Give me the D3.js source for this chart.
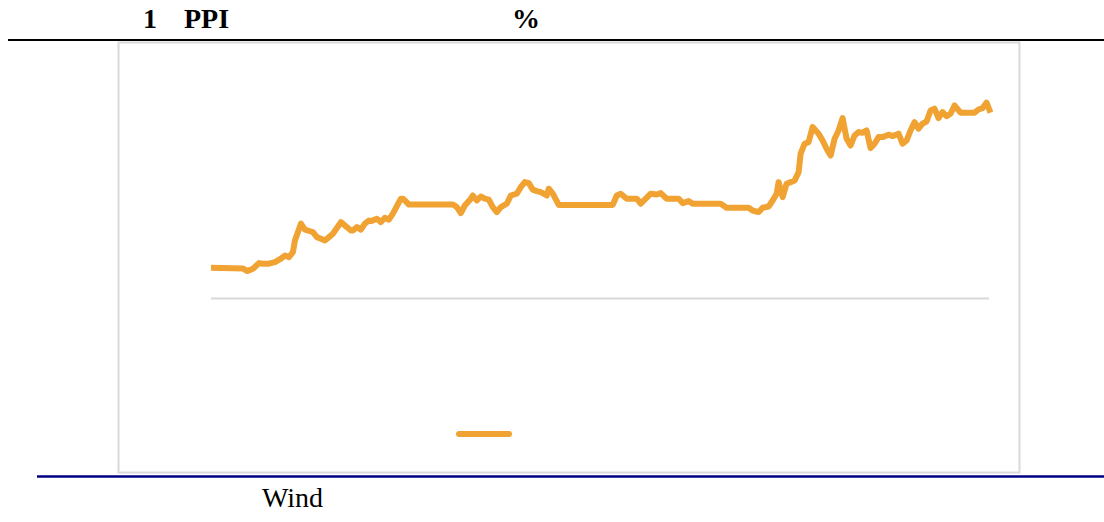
<!DOCTYPE html>
<html>
<head>
<meta charset="utf-8">
<script src="https://cdn.jsdelivr.net/npm/d3@7"></script>
<style>
  body { margin: 0; background: #fff; }
  svg { display: block; }
</style>
</head>
<body>
<div id="chart"></div>
<script>
// week index of each point and the series value
const weeks = [0, 16, 18, 21, 24, 26, 29, 32, 35, 37, 39, 41, 42, 45, 47, 50, 51, 53, 55, 57,
  59, 61, 65, 67, 70, 71, 73, 75, 77, 79, 80, 83, 85, 87, 89, 91, 95, 96, 99, 121,
  123, 125, 127, 130, 131, 133, 135, 137, 139, 141, 143, 145, 148, 150, 153, 155, 157, 159, 161, 163,
  165, 168, 169, 171, 174, 201, 203, 205, 208, 213, 215, 218, 220, 223, 225, 228, 234, 236, 239, 241,
  255, 258, 269, 271, 274, 276, 279, 281, 283, 284, 286, 288, 290, 292, 294, 295, 297, 299, 301, 304,
  306, 308, 310, 312, 314, 316, 318, 320, 322, 324, 326, 328, 330, 332, 334, 336, 339, 341, 344, 346,
  348, 350, 352, 354, 356, 358, 360, 362, 364, 366, 368, 370, 372, 375, 382, 384, 386, 388, 390]
const ppi = [1.54, 1.50, 1.37, 1.49, 1.77, 1.74, 1.74, 1.82, 1.99, 2.15, 2.07, 2.32, 2.90, 3.74, 3.44, 3.35, 3.32, 3.07, 2.99, 2.90,
  3.07, 3.24, 3.82, 3.65, 3.40, 3.40, 3.57, 3.44, 3.74, 3.90, 3.87, 3.99, 3.82, 4.04, 3.94, 4.24, 4.99, 4.99, 4.70, 4.70,
  4.57, 4.27, 4.65, 4.99, 5.15, 4.90, 5.10, 4.99, 4.94, 4.57, 4.32, 4.57, 4.74, 5.15, 5.24, 5.57, 5.82, 5.77, 5.44, 5.37,
  5.32, 5.15, 5.49, 5.24, 4.68, 4.68, 5.15, 5.24, 4.99, 4.99, 4.74, 5.04, 5.24, 5.20, 5.27, 4.99, 4.99, 4.77, 4.87, 4.74,
  4.74, 4.54, 4.54, 4.40, 4.32, 4.54, 4.60, 4.90, 5.24, 5.82, 5.07, 5.74, 5.82, 5.90, 6.32, 7.24, 7.74, 7.82, 8.57, 8.24,
  7.90, 7.49, 7.15, 7.99, 8.40, 9.02, 7.99, 7.65, 8.15, 8.32, 8.29, 8.40, 7.52, 7.74, 8.07, 8.07, 8.19, 8.12, 8.24, 7.74,
  7.90, 8.40, 8.82, 8.49, 8.74, 8.85, 9.40, 9.49, 9.02, 9.32, 9.12, 9.24, 9.65, 9.29, 9.29, 9.45, 9.52, 9.79, 9.29]

const width = 1104, height = 522
const lineColor = '#f0a232'

const svg = d3.select('#chart').append('svg')
    .attr('width', width)
    .attr('height', height)

// title row (only the latin part of the caption shows)
const titleFont = "'Liberation Serif', 'Times New Roman', serif"
svg.append('text').attr('x', 143).attr('y', 28).text('1')
    .attr('font-family', titleFont).attr('font-size', 28).attr('font-weight', 'bold')
svg.append('text').attr('x', 184).attr('y', 28).text('PPI')
    .attr('font-family', titleFont).attr('font-size', 28).attr('font-weight', 'bold')
svg.append('text').attr('x', 512).attr('y', 28).text('%')
    .attr('font-family', titleFont).attr('font-size', 28).attr('font-weight', 'bold')

svg.append('line')
    .attr('x1', 8).attr('x2', width).attr('y1', 40).attr('y2', 40)
    .attr('stroke', '#000').attr('stroke-width', 2)

// chart frame
svg.append('rect')
    .attr('x', 118.5).attr('y', 42.5).attr('width', 901).attr('height', 430)
    .attr('fill', '#fff').attr('stroke', '#d9d9d9').attr('stroke-width', 2)

const xScale = d3.scaleLinear()
    .domain([0, d3.max(weeks)])
    .range([211, 990.5])

const yScale = d3.scaleLinear()
    .domain([0, 12])
    .range([298.5, 58.5])

// zero line
svg.append('g')
    .attr('transform', `translate(0, ${yScale(0)})`)
    .call(d3.axisBottom(xScale).tickSize(0).tickFormat(''))
    .call(g => g.select('path').attr('stroke', '#d9d9d9').attr('stroke-width', 2)
        .attr('d', `M${xScale(0)},0H${xScale(d3.max(weeks)) - 1.5}`))

const points = weeks.map((w, i) => ({ w: w, v: ppi[i] }))

svg.append('path')
    .datum(points)
    .attr('fill', 'none')
    .attr('stroke', lineColor)
    .attr('stroke-width', 6)
    .attr('stroke-linejoin', 'round')
    .attr('d', d3.line().x(d => xScale(d.w)).y(d => yScale(d.v)))

// legend swatch
svg.append('line')
    .attr('x1', 459).attr('x2', 509).attr('y1', 434).attr('y2', 434)
    .attr('stroke', lineColor).attr('stroke-width', 6).attr('stroke-linecap', 'round')

// source line
svg.append('line')
    .attr('x1', 37).attr('x2', width).attr('y1', 476.5).attr('y2', 476.5)
    .attr('stroke', '#000080').attr('stroke-width', 2.5)

svg.append('text').attr('x', 262).attr('y', 507).text('Wind')
    .attr('font-family', titleFont).attr('font-size', 28)
</script>
</body>
</html>
